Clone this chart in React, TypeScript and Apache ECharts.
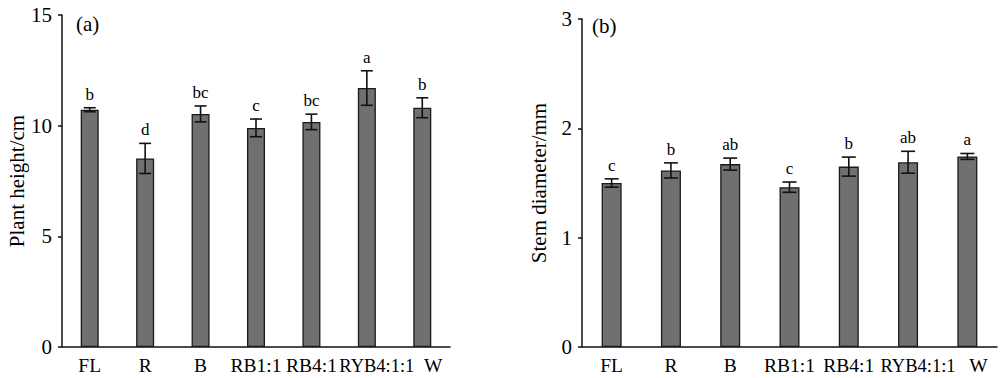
import React, { useEffect, useRef } from "react";
import * as echarts from "echarts";

const categories = ["FL", "R", "B", "RB1:1", "RB4:1", "RYB4:1:1", "W"];
const heightMean = [10.72, 8.52, 10.53, 9.9, 10.17, 11.7, 10.81];
const heightErr = [0.09, 0.68, 0.36, 0.4, 0.35, 0.78, 0.45];
const heightLetters = ["b", "d", "bc", "c", "bc", "a", "b"];
const stemMean = [1.5, 1.615, 1.673, 1.462, 1.65, 1.69, 1.743];
const stemErr = [0.038, 0.069, 0.055, 0.047, 0.087, 0.1, 0.027];
const stemLetters = ["c", "b", "ab", "c", "b", "ab", "a"];

const FONT = "Liberation Serif";
const INK = "#000";

function errSeries(idx: number, mean: number[], err: number[], letters: string[], cap: number) {
  return {
    type: "custom",
    xAxisIndex: idx,
    yAxisIndex: idx,
    z: 5,
    data: mean.map((m, i) => [i, m, err[i]]),
    renderItem: (params: any, api: any) => {
      const x = api.value(0);
      const m = api.value(1);
      const e = api.value(2);
      const top = api.coord([x, m + e]);
      const bot = api.coord([x, m - e]);
      const cx = top[0];
      const st = { stroke: "#111", lineWidth: 1.6 };
      return {
        type: "group",
        children: [
          { type: "line", shape: { x1: cx, y1: top[1], x2: cx, y2: bot[1] }, style: st },
          { type: "line", shape: { x1: cx - cap / 2, y1: top[1], x2: cx + cap / 2, y2: top[1] }, style: st },
          { type: "line", shape: { x1: cx - cap / 2, y1: bot[1], x2: cx + cap / 2, y2: bot[1] }, style: st },
          {
            type: "text",
            x: cx,
            y: top[1] - 5,
            style: {
              text: letters[params.dataIndex],
              fontFamily: FONT,
              fontSize: 17,
              fill: INK,
              align: "center",
              verticalAlign: "bottom",
            },
          },
        ],
      };
    },
  };
}

export default function App() {
  const ref = useRef<HTMLDivElement>(null);
  useEffect(() => {
    const chart = echarts.init(ref.current!, null, { renderer: "svg" });
    const xAxisCommon = {
      type: "category",
      data: categories,
      axisLine: { lineStyle: { color: "#111", width: 1.5 } },
      axisTick: { show: false },
      axisLabel: {
        color: INK,
        fontFamily: FONT,
        fontSize: 19.5,
        margin: 8,
        interval: 0,
        formatter: (v: string) => (v === "RYB4:1:1" ? "{r|" + v + "}" : v === "W" ? "{w|" + v + "}" : v),
        rich: {
          r: { fontFamily: FONT, fontSize: 18.5, color: INK, padding: [1, 0, 0, 20] },
          w: { fontFamily: FONT, fontSize: 19.5, color: INK, padding: [0, 0, 0, 22] },
        },
      },
    };
    const yAxisCommon = {
      type: "value",
      nameLocation: "middle",
      nameTextStyle: { color: INK, fontFamily: FONT, fontSize: 21 },
      axisLine: { show: true, lineStyle: { color: "#111", width: 1.5 } },
      axisTick: { show: true, length: 4, lineStyle: { color: "#111", width: 1.5 } },
      axisLabel: { color: INK, fontFamily: FONT, fontSize: 21, margin: 10 },
      splitLine: { show: false },
    };
    chart.setOption({
      animation: false,
      backgroundColor: "#fff",
      grid: [
        { left: 62, top: 15, width: 388, bottom: 31 },
        { left: 582, top: 19, width: 415, bottom: 31 },
      ],
      xAxis: [
        { ...xAxisCommon, gridIndex: 0 },
        { ...xAxisCommon, gridIndex: 1 },
      ],
      yAxis: [
        { ...yAxisCommon, gridIndex: 0, min: 0, max: 15, interval: 5, name: "Plant height/cm", nameGap: 35 },
        { ...yAxisCommon, gridIndex: 1, min: 0, max: 3, interval: 1, name: "Stem diameter/mm", nameGap: 33 },
      ],
      graphic: [
        { type: "text", left: 76, top: 13, style: { text: "(a)", fontFamily: FONT, fontSize: 21, fill: INK } },
        { type: "text", left: 592, top: 15, style: { text: "(b)", fontFamily: FONT, fontSize: 21, fill: INK } },
      ],
      series: [
        {
          type: "bar",
          xAxisIndex: 0,
          yAxisIndex: 0,
          data: heightMean,
          barWidth: 18,
          itemStyle: { color: "#707070", borderColor: "#1a1a1a", borderWidth: 1.3 },
        },
        {
          type: "bar",
          xAxisIndex: 1,
          yAxisIndex: 1,
          data: stemMean,
          barWidth: 20,
          itemStyle: { color: "#707070", borderColor: "#1a1a1a", borderWidth: 1.3 },
        },
        errSeries(0, heightMean, heightErr, heightLetters, 12),
        errSeries(1, stemMean, stemErr, stemLetters, 14),
      ],
    });
    return () => chart.dispose();
  }, []);
  return <div ref={ref} style={{ width: 1000, height: 378, position: "absolute", left: 0, top: 0 }} />;
}
